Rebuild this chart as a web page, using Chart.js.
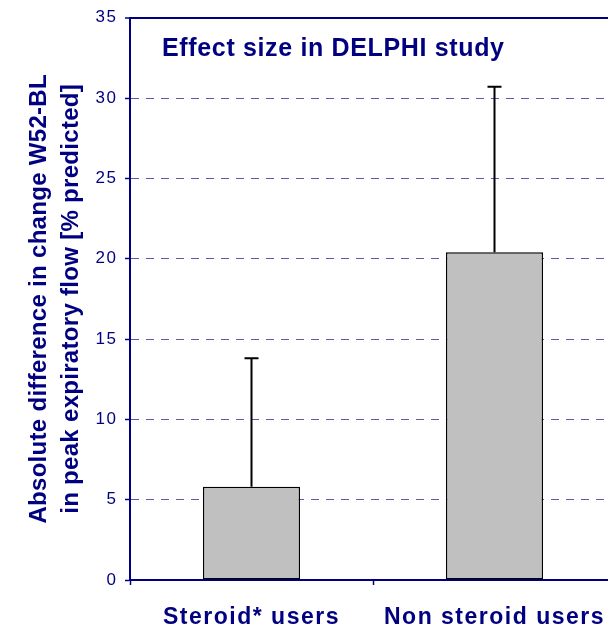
<!DOCTYPE html>
<html>
<head>
<meta charset="utf-8">
<title>Effect size in DELPHI study</title>
<script src="https://cdn.jsdelivr.net/npm/chart.js@4/dist/chart.umd.min.js"></script>
<style>
  html, body { margin: 0; padding: 0; background: #fff; overflow: hidden; width: 608px; height: 627px; }
  #wrap { position: absolute; left: 0; top: 0; width: 616px; height: 627px; }
  canvas { display: block; }
</style>
</head>
<body>
<div id="wrap"><canvas id="c" width="616" height="627"></canvas></div>
<script>
// Data
const categories = ['Steroid* users', 'Non steroid users'];
const effectSize = [5.8, 20.4];      // bar heights
const errorPlus  = [8.0, 10.3];      // upper error bar lengths
const yTicks     = [0, 5, 10, 15, 20, 25, 30, 35];
const chartTitle = 'Effect size in DELPHI study';
const yTitle     = ['Absolute difference in change W52-BL', 'in peak expiratory flow [% predicted]'];

const NAVY = '#000080';
const GRID = '#5a5aae';
const FONT = '"Liberation Sans", Arial, Helvetica, sans-serif';

// Wrap a scale drawing method so its text is drawn with extra letter spacing
function spaced(scale, method, spacing) {
  const orig = scale[method];
  scale[method] = function (...args) {
    const ctx = this.ctx;
    ctx.save();
    ctx.letterSpacing = spacing;
    orig.apply(this, args);
    ctx.restore();
  };
}

const textSpacing = {
  id: 'textSpacing',
  afterLayout(chart) {
    if (chart._spacedText) return;
    chart._spacedText = true;
    spaced(chart.scales.x, 'drawLabels', '1.5px');
    spaced(chart.scales.y, 'drawLabels', '1.5px');
    spaced(chart.scales.y, 'drawTitle', '0.3px');
  }
};

// Upper error bars with caps
const errorBars = {
  id: 'errorBars',
  afterDatasetsDraw(chart) {
    const { ctx, scales: { y } } = chart;
    const meta = chart.getDatasetMeta(0);
    ctx.save();
    ctx.strokeStyle = '#000';
    ctx.lineWidth = 2;
    meta.data.forEach((bar, i) => {
      const top = y.getPixelForValue(effectSize[i] + errorPlus[i]);
      ctx.beginPath();
      ctx.moveTo(bar.x, bar.y);
      ctx.lineTo(bar.x, top);
      ctx.moveTo(bar.x - 7, top);
      ctx.lineTo(bar.x + 7, top);
      ctx.stroke();
    });
    ctx.restore();
  }
};

// Title placed inside the plot area
const innerTitle = {
  id: 'innerTitle',
  afterDraw(chart) {
    const { ctx, chartArea } = chart;
    ctx.save();
    ctx.font = 'bold 25px ' + FONT;
    ctx.letterSpacing = '0.65px';
    ctx.fillStyle = NAVY;
    ctx.textAlign = 'left';
    ctx.textBaseline = 'middle';
    ctx.fillText(chartTitle, chartArea.left + 32, chartArea.top + 31);
    ctx.restore();
  }
};

new Chart(document.getElementById('c'), {
  type: 'bar',
  data: {
    labels: categories,
    datasets: [{
      data: effectSize,
      backgroundColor: '#c0c0c0',
      borderColor: '#000',
      borderWidth: 1.5,
      borderSkipped: false,
      categoryPercentage: 1.0,
      barPercentage: 0.4
    }]
  },
  options: {
    responsive: false,
    animation: false,
    devicePixelRatio: 1,
    layout: { padding: { top: 16, left: 0, right: 0, bottom: 0 } },
    plugins: {
      legend: { display: false },
      tooltip: { enabled: false },
      title: { display: false }
    },
    scales: {
      x: {
        afterFit(scale) { scale.height = 47; },
        grid: {
          display: true,
          drawOnChartArea: false,
          drawTicks: true,
          tickLength: 5,
          tickColor: NAVY,
          tickWidth: 1.5
        },
        border: { display: true, color: NAVY, width: 2 },
        ticks: {
          color: NAVY,
          font: { family: FONT, size: 23, weight: 'bold' },
          padding: 19,
          maxRotation: 0,
          autoSkip: false
        }
      },
      y: {
        min: 0,
        max: 35,
        afterFit(scale) { scale.width = 130; },
        afterBuildTicks(scale) { scale.ticks = yTicks.map(v => ({ value: v })); },
        grid: {
          drawTicks: true,
          tickLength: 5,
          tickColor: NAVY,
          tickWidth: 1.5,
          color: ctx => ctx.tick && ctx.tick.value === 0 ? 'rgba(0,0,0,0)' : (ctx.tick && ctx.tick.value === 35 ? NAVY : GRID),
          lineWidth: ctx => ctx.tick && ctx.tick.value === 35 ? 2 : 1
        },
        border: {
          display: true,
          color: NAVY,
          width: 2,
          dash: ctx => ctx.tick && ctx.tick.value === 35 ? [] : [8, 7]
        },
        ticks: {
          color: NAVY,
          font: { family: FONT, size: 17 },
          padding: 7.5
        },
        title: {
          display: true,
          text: yTitle,
          color: NAVY,
          font: { family: FONT, size: 24, weight: 'bold', lineHeight: 1.35 },
          padding: { top: 23, bottom: 0 }
        }
      }
    }
  },
  plugins: [textSpacing, errorBars, innerTitle]
});
</script>
</body>
</html>
